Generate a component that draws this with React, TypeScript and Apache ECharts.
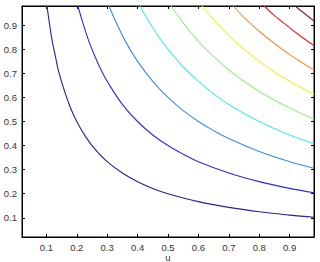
import React, { useEffect, useRef } from "react";
import * as echarts from "echarts";

const tickValues = [0.1, 0.2, 0.3, 0.4, 0.5, 0.6, 0.7, 0.8, 0.9];
const levels = [0.1, 0.2, 0.3, 0.4, 0.5, 0.6, 0.7, 0.8, 0.9];
const levelColors = ["#24248e", "#2e2ed0", "#3a8ee0", "#4ee6f0", "#94f084", "#f2ee34", "#f09034", "#de2424", "#8e1a2a"];

const c01 = [[0.102,0.98],[0.11,0.91],[0.12,0.83],[0.13,0.77],[0.14,0.71],[0.16,0.625],[0.18,0.555],[0.2,0.5],[0.23,0.435],[0.26,0.385],[0.3,0.333],[0.35,0.286],[0.4,0.25],[0.45,0.222],[0.5,0.2],[0.6,0.167],[0.7,0.143],[0.8,0.125],[0.9,0.111],[0.98,0.102]];
const c02 = [[0.204,0.98],[0.22,0.91],[0.24,0.833],[0.26,0.77],[0.28,0.714],[0.3,0.667],[0.35,0.571],[0.4,0.5],[0.45,0.444],[0.5,0.4],[0.55,0.364],[0.6,0.333],[0.7,0.286],[0.8,0.25],[0.9,0.222],[0.98,0.204]];
const c03 = [[0.306,0.98],[0.33,0.91],[0.36,0.833],[0.4,0.75],[0.45,0.667],[0.5,0.6],[0.55,0.545],[0.6,0.5],[0.65,0.462],[0.7,0.429],[0.8,0.375],[0.9,0.333],[0.98,0.306]];
const c04 = [[0.408,0.98],[0.44,0.91],[0.48,0.833],[0.52,0.77],[0.56,0.714],[0.6,0.667],[0.65,0.615],[0.7,0.571],[0.8,0.5],[0.9,0.444],[0.98,0.408]];
const c05 = [[0.51,0.98],[0.55,0.91],[0.6,0.833],[0.65,0.77],[0.7,0.714],[0.75,0.667],[0.8,0.625],[0.9,0.556],[0.98,0.51]];
const c06 = [[0.612,0.98],[0.66,0.91],[0.7,0.857],[0.75,0.8],[0.8,0.75],[0.85,0.706],[0.9,0.667],[0.98,0.612]];
const c07 = [[0.714,0.98],[0.76,0.92],[0.8,0.875],[0.85,0.824],[0.9,0.778],[0.94,0.745],[0.98,0.714]];
const c08 = [[0.816,0.98],[0.85,0.94],[0.88,0.91],[0.92,0.87],[0.95,0.842],[0.98,0.816]];
const c09 = [[0.918,0.98],[0.94,0.957],[0.96,0.9375],[0.98,0.918]];
const contours = [c01, c02, c03, c04, c05, c06, c07, c08, c09];

const labelStyle = { color: "#333", fontSize: 9.5, fontFamily: "Liberation Sans, Arial, sans-serif" };

export default function App() {
  const ref = useRef<HTMLDivElement>(null);
  useEffect(() => {
    if (!ref.current) return;
    const chart = echarts.init(ref.current, null, { renderer: "svg" });
    const tick = { show: true, inside: true, length: 3, customValues: tickValues, lineStyle: { color: "#000", width: 1 } };
    const axisCommon = {
      type: "value" as const,
      min: 0.02,
      max: 0.98,
      splitLine: { show: false },
      axisLine: { show: true, onZero: false, lineStyle: { color: "#000", width: 1 } },
      axisTick: tick,
    };
    chart.setOption({
      animation: false,
      backgroundColor: "#fff",
      grid: {
        left: 22, right: 6, top: 6, bottom: 25,
        containLabel: false,
        outerBoundsMode: "none",
        show: true,
        borderColor: "#000",
        borderWidth: 1,
        backgroundColor: "transparent",
      },
      xAxis: [
        {
          ...axisCommon,
          position: "bottom",
          name: "u",
          nameLocation: "middle",
          nameGap: 15,
          nameMoveOverlap: false,
          nameTextStyle: { ...labelStyle, verticalAlign: "top" },
          axisLabel: { show: true, margin: 5, customValues: tickValues, ...labelStyle, formatter: (v: number) => v.toFixed(1) },
        },
        {
          ...axisCommon,
          position: "top",
          axisLabel: { show: false },
        },
      ],
      yAxis: [
        {
          ...axisCommon,
          position: "left",
          axisLabel: { show: true, margin: 5, customValues: tickValues, ...labelStyle, formatter: (v: number) => v.toFixed(1) },
        },
        {
          ...axisCommon,
          position: "right",
          axisLabel: { show: false },
        },
      ],
      series: contours.map((pts, i) => ({
        type: "line",
        name: String(levels[i]),
        data: pts,
        xAxisIndex: 0,
        yAxisIndex: 0,
        smooth: 0.4,
        showSymbol: false,
        symbol: "none",
        clip: true,
        lineStyle: { color: levelColors[i], width: 1.1 },
      })),
    });
    return () => chart.dispose();
  }, []);
  return <div ref={ref} style={{ position: "fixed", left: 0, top: 0, width: 320, height: 262 }} />;
}
